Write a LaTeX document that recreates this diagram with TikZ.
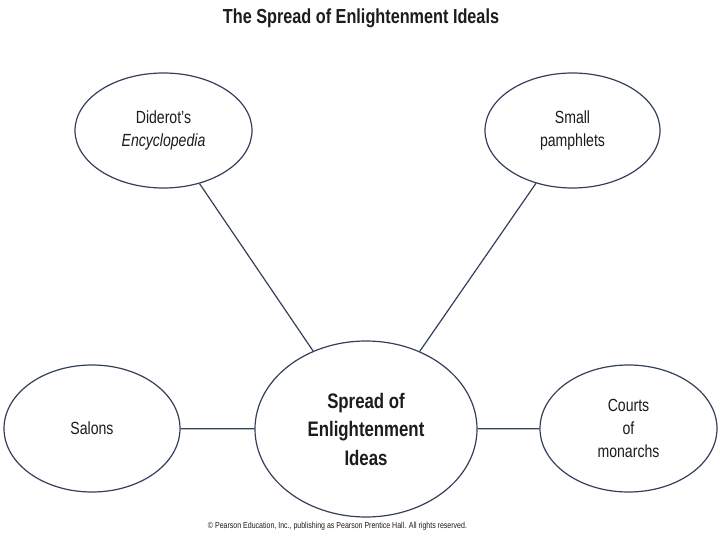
\documentclass[tikz,border=0pt]{standalone}
\usepackage{fontspec}
\usepackage{graphicx}
\usetikzlibrary{shapes.geometric}
\newfontfamily\condfont[FakeStretch=0.8]{Liberation Sans}
\definecolor{linecol}{HTML}{34405A}
\definecolor{txtcol}{HTML}{1C1C1C}
\begin{document}
\begin{tikzpicture}[x=1pt,y=-1pt,
  bubble/.style={ellipse,draw=linecol,line width=1.2pt,inner sep=0pt,align=center,
    text=txtcol,font=\condfont\fontsize{17.6}{23}\selectfont},
  link/.style={draw=linecol,line width=1.2pt}]
\useasboundingbox (0,0) rectangle (720,540);
\fill[white] (0,0) rectangle (720,540);
\node[text=txtcol,font=\condfont\bfseries\fontsize{20.3}{24}\selectfont] (title) at (361,18) {The Spread of Enlightenment Ideals};
\node[bubble,minimum width=222pt,minimum height=176pt,font=\condfont\bfseries\fontsize{21}{28.5}\selectfont] (main) at (366,429) {Spread of\\Enlightenment\\Ideas};
\node[bubble,minimum width=177pt,minimum height=115pt] (diderot) at (163.5,130.5) {Diderot’s\\\itshape Encyclopedia};
\node[bubble,minimum width=175pt,minimum height=115pt] (pamph) at (572.5,130.5) {Small\\pamphlets};
\node[bubble,minimum width=176pt,minimum height=127pt] (salons) at (92,428.5) {Salons};
\node[bubble,minimum width=177pt,minimum height=127pt] (courts) at (628.5,428.5) {Courts\\of\\monarchs};
\draw[link] (diderot) -- (main);
\draw[link] (pamph) -- (main);
\draw[link] (salons) -- (main);
\draw[link] (courts) -- (main);
\node[text=txtcol,inner sep=0pt,font=\condfont\fontsize{8}{9}\selectfont] (copy) at (337.5,526) {\resizebox{259pt}{!}{\copyright\ Pearson Education, Inc., publishing as Pearson Prentice Hall. All rights reserved.}};
\end{tikzpicture}
\end{document}
